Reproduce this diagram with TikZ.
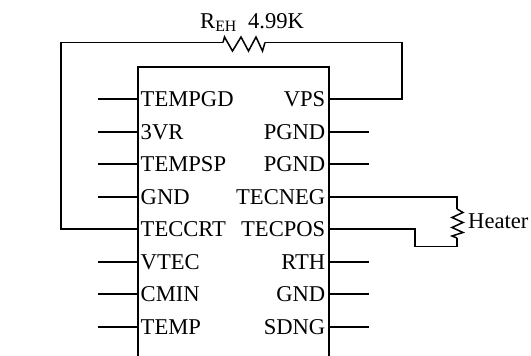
\documentclass[tikz,border=0pt]{standalone}
\usepackage{fontspec}
\setmainfont{Liberation Serif}
\begin{document}
\begin{tikzpicture}[x=1pt,y=-1pt,
    wire/.style={line width=1.5pt, line join=miter},
    pinl/.style={anchor=base west, inner sep=0pt, font=\fontsize{22.6}{24}\selectfont},
    pinr/.style={anchor=base east, inner sep=0pt, font=\fontsize{22.6}{24}\selectfont},
    lbl/.style={anchor=base west, inner sep=0pt, font=\fontsize{22.6}{24}\selectfont}]
    \useasboundingbox (0,0) rectangle (531,356);

    \draw[wire] (138,356) -- (138,67) -- (329,67) -- (329,356);

    % left side pins
    \foreach \name/\txt/\ypos in {tempgd/TEMPGD/99, 3vr/3VR/132, tempsp/TEMPSP/164, gndl/GND/197,
                                  teccrt/TECCRT/229, vtec/VTEC/262, cmin/CMIN/294, temp/TEMP/327} {
        \coordinate (\name) at (138,\ypos);
        \node[pinl] (\name-txt) at (140.5,\ypos+7.5) {\txt};
    }
    % right side pins
    \foreach \name/\txt/\ypos in {vps/VPS/99, pgnda/PGND/132, pgndb/PGND/164, tecneg/TECNEG/197,
                                  tecpos/TECPOS/229, rth/RTH/262, gndr/GND/294, sdng/SDNG/327} {
        \coordinate (\name) at (329,\ypos);
        \node[pinr] (\name-txt) at (325.5,\ypos+7.5) {\txt};
    }

    % open stubs
    \foreach \name in {tempgd,3vr,tempsp,gndl,vtec,cmin,temp}
        \draw[wire] (\name) -- ++(-40,0);
    \foreach \name in {pgnda,pgndb,rth,gndr,sdng}
        \draw[wire] (\name) -- ++(40,0);

    % feedback resistor
    \coordinate (reha) at (223,42.5);
    \coordinate (rehb) at (265,42.5);
    \draw[wire] (vps) -- (402,99) -- (402,42.5) -- (rehb);
    \draw[wire] (teccrt) -- (61,229) -- (61,42.5) -- (reha);
    \draw[wire] (reha) -- (224.5,37) -- (232.5,51) -- (241,37) -- (248.5,51) -- (256,37) -- (262.5,51) -- (rehb);
    \node[lbl] (reh) at (200,28) {R\textsubscript{EH}\hspace{0.5em}4.99K};

    % heater
    \coordinate (heata) at (457,209);
    \coordinate (heatb) at (457,238);
    \draw[wire] (tecneg) -- (457,197) -- (heata);
    \draw[wire] (tecpos) -- (415,229) -- (415,246.5) -- (457,246.5) -- (heatb);
    \draw[wire] (heata) -- (463,212.5) -- (452,217.5) -- (463,222.5) -- (452,227.5) -- (463,232.5) -- (452,236) -- (heatb);
    \node[lbl] (heater) at (468,228.5) {Heater};
\end{tikzpicture}
\end{document}
